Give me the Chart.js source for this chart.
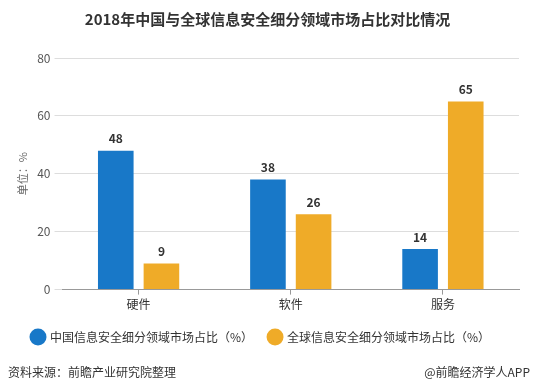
<!DOCTYPE html>
<html>
<head>
<meta charset="utf-8">
<script src="https://cdn.jsdelivr.net/npm/chart.js@4"></script>
<style>
  html, body { margin: 0; padding: 0; background: #fff; }
  #wrap { width: 536px; height: 391px; position: relative; }
</style>
</head>
<body>
<div id="wrap"><canvas id="chart"></canvas></div>
<script>
// Data
const categories = ["硬件", "软件", "服务"];
const chinaShare = [48, 38, 14];
const globalShare = [9, 26, 65];
const seriesNames = ["中国信息安全细分领域市场占比（%）", "全球信息安全细分领域市场占比（%）"];
const yTicks = [0, 20, 40, 60, 80];

const FONT = "'Noto Sans CJK SC', 'Noto Sans', sans-serif";

// value labels above bars
const barLabels = {
  id: "barLabels",
  afterDatasetsDraw(chart) {
    const ctx = chart.ctx;
    ctx.save();
    ctx.font = "bold 12px " + FONT;
    ctx.fillStyle = "#333";
    ctx.textAlign = "center";
    ctx.textBaseline = "bottom";
    chart.data.datasets.forEach((ds, i) => {
      chart.getDatasetMeta(i).data.forEach((bar, j) => {
        ctx.fillText(ds.data[j], bar.x, bar.y - 6);
      });
    });
    ctx.restore();
  },
};

// source line at the bottom
const footer = {
  id: "footer",
  afterDraw(chart) {
    const ctx = chart.ctx;
    ctx.save();
    ctx.font = "12px " + FONT;
    ctx.fillStyle = "#333";
    ctx.textBaseline = "middle";
    ctx.textAlign = "left";
    ctx.fillText("资料来源：前瞻产业研究院整理", 8, 372);
    ctx.textAlign = "right";
    ctx.fillText("@前瞻经济学人APP", 530, 372);
    ctx.restore();
  },
};

const ctx = document.getElementById("chart").getContext("2d");

new Chart(ctx, {
  type: "bar",
  data: {
    labels: categories,
    datasets: [
      {
        label: seriesNames[0],
        data: chinaShare,
        backgroundColor: "#1878c8",
        barPercentage: 0.78,
        categoryPercentage: 0.6,
      },
      {
        label: seriesNames[1],
        data: globalShare,
        backgroundColor: "#efab28",
        barPercentage: 0.78,
        categoryPercentage: 0.6,
      },
    ],
  },
  options: {
    responsive: true,
    maintainAspectRatio: false,
    animation: false,
    layout: {
      padding: { left: 16, right: 17, top: 0, bottom: 38 },
    },
    scales: {
      x: {
        grid: {
          offset: false,
          drawOnChartArea: false,
          color: "#999",
          tickLength: 5,
        },
        border: { color: "#999" },
        ticks: { color: "#333", font: { family: FONT, size: 12 } },
      },
      y: {
        min: 0,
        max: 80,
        afterBuildTicks(axis) {
          axis.ticks = yTicks.map((v) => ({ value: v }));
        },
        grid: { color: "#ddd", tickLength: 8 },
        border: { display: false },
        ticks: { color: "#555", padding: 4, font: { family: FONT, size: 12 } },
        title: {
          display: true,
          text: "单位：%",
          color: "#666",
          padding: { top: 0, bottom: 4 },
          font: { family: FONT, size: 11 },
        },
      },
    },
    plugins: {
      title: {
        display: true,
        text: "2018年中国与全球信息安全细分领域市场占比对比情况",
        color: "#333",
        padding: { top: 10, bottom: 30 },
        font: { family: FONT, size: 15, weight: "bold" },
      },
      legend: {
        position: "bottom",
        align: "start",
        labels: {
          usePointStyle: true,
          pointStyle: "circle",
          boxWidth: 12,
          boxHeight: 12,
          padding: 16,
          color: "#333",
          font: { family: FONT, size: 12 },
        },
      },
      tooltip: { enabled: false },
    },
  },
  plugins: [barLabels, footer],
});
</script>
</body>
</html>
